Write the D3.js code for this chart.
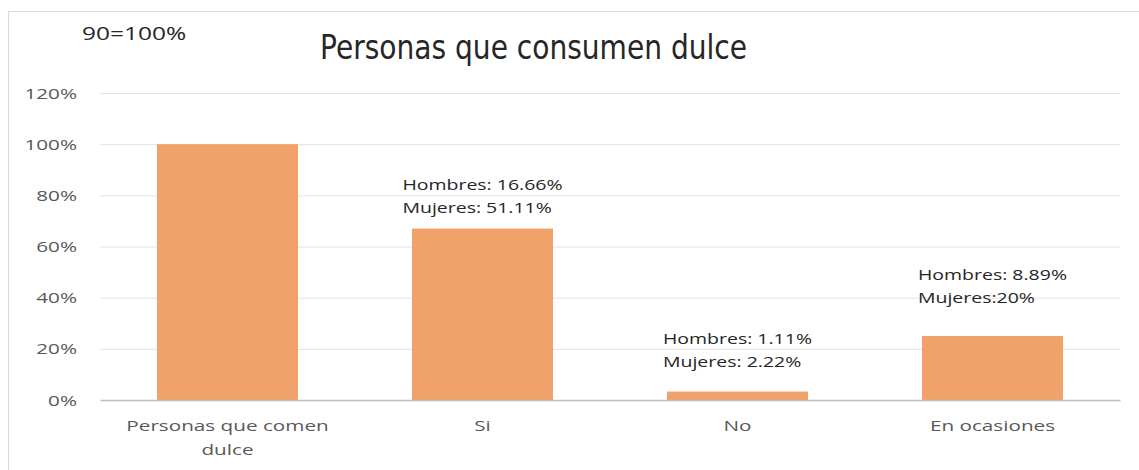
<!DOCTYPE html>
<html><head><meta charset="utf-8">
<script src="https://cdn.jsdelivr.net/npm/d3@7/dist/d3.min.js"></script>
<style>body{margin:0;background:#fff;}svg{display:block;}</style>
</head><body><svg id="c" width="1139" height="470"></svg>
<script>
const categories = ["Personas que comen dulce", "Si", "No", "En ocasiones"];
const categoryLines = [["Personas que comen", "dulce"], ["Si"], ["No"], ["En ocasiones"]];
const values = [1.00, 0.67, 0.033, 0.25];
const annotations = [[], ["Hombres: 16.66%", "Mujeres: 51.11%"], ["Hombres: 1.11%", "Mujeres: 2.22%"], ["Hombres: 8.89%", "Mujeres:20%"]];
const annotationLevel = [null, 0.82, 0.22, 0.47];
const yTicks = [0, 0.2, 0.4, 0.6, 0.8, 1.0, 1.2];
const title = "Personas que consumen dulce";
const note = "90=100%";

const svg = d3.select("#c");
const SX = 1.38;
const FONT = "'Open Sans', sans-serif";

// outer border
svg.append("rect").attr("x", 8.5).attr("y", 11.5).attr("width", 1200).attr("height", 500)
  .attr("fill", "none").attr("stroke", "#d9d9d9");

const x = d3.scaleBand().domain(categories).range([100, 1120]).paddingInner(0.447).paddingOuter(0.2235);
const y = d3.scaleLinear().domain([0, 1.2]).range([400, 93]);

function stext(g, tx, ty, str, opts) {
  return g.append("text")
    .attr("transform", `translate(${tx},${ty}) scale(${opts.sx || SX},1)`)
    .attr("font-family", FONT).attr("font-size", opts.size)
    .attr("font-weight", opts.weight || 500)
    .attr("fill", opts.fill).attr("text-anchor", opts.anchor || "start")
    .text(str);
}

// gridlines
const grid = svg.append("g").attr("transform", "translate(100,0)")
  .call(d3.axisLeft(y).tickValues(yTicks).tickSize(-1020).tickFormat(""));
grid.select(".domain").remove();
grid.selectAll(".tick line").attr("stroke", "#e3e3e3").attr("stroke-width", 1);
grid.selectAll(".tick").filter(d => d === 0).remove();

// y tick labels
const yl = svg.append("g");
yTicks.forEach(v => {
  stext(yl, 77, y(v) + 5.5, d3.format(".0%")(v), {size: 15, fill: "#595959", anchor: "end"});
});

// bars
svg.append("g").selectAll("rect").data(values).join("rect")
  .attr("x", (d, i) => x(categories[i]))
  .attr("width", x.bandwidth())
  .attr("y", d => y(d))
  .attr("height", d => y(0) - y(d))
  .attr("fill", "#f0a26a");

// x axis line
const xa = svg.append("g").attr("transform", "translate(0,400)")
  .call(d3.axisBottom(x).tickSize(0).tickFormat(""));
xa.select(".domain").attr("stroke", "#bfbfbf").attr("stroke-width", 1.5);

// category labels
const cl = svg.append("g");
categoryLines.forEach((lines, i) => {
  const cx = x(categories[i]) + x.bandwidth() / 2;
  lines.forEach((ln, j) => {
    stext(cl, cx, 431 + j * 24, ln, {size: 15, fill: "#595959", anchor: "middle"});
  });
});

// annotations
const an = svg.append("g");
annotations.forEach((lines, i) => {
  if (!lines.length) return;
  const cx = x(categories[i]) + x.bandwidth() / 2;
  const g = an.append("g");
  const ts = lines.map((ln, j) => stext(g, 0, y(annotationLevel[i]) + j * 23, ln, {size: 15, fill: "#262626", sx: 1.3}));
  const w = d3.max(ts.map(t => t.node().getBBox().width * 1.3));
  g.attr("transform", `translate(${cx - w / 2},0)`);
});

// title
svg.append("text").attr("x", 320).attr("y", 59)
  .attr("font-family", "'DejaVu Sans','Open Sans',sans-serif")
  .attr("font-size", 33).attr("fill", "#262626")
  .attr("textLength", 427).attr("lengthAdjust", "spacingAndGlyphs")
  .text(title);

// note
stext(svg, 82, 40, note, {size: 18, fill: "#262626", sx: 1.36});
</script></body></html>
